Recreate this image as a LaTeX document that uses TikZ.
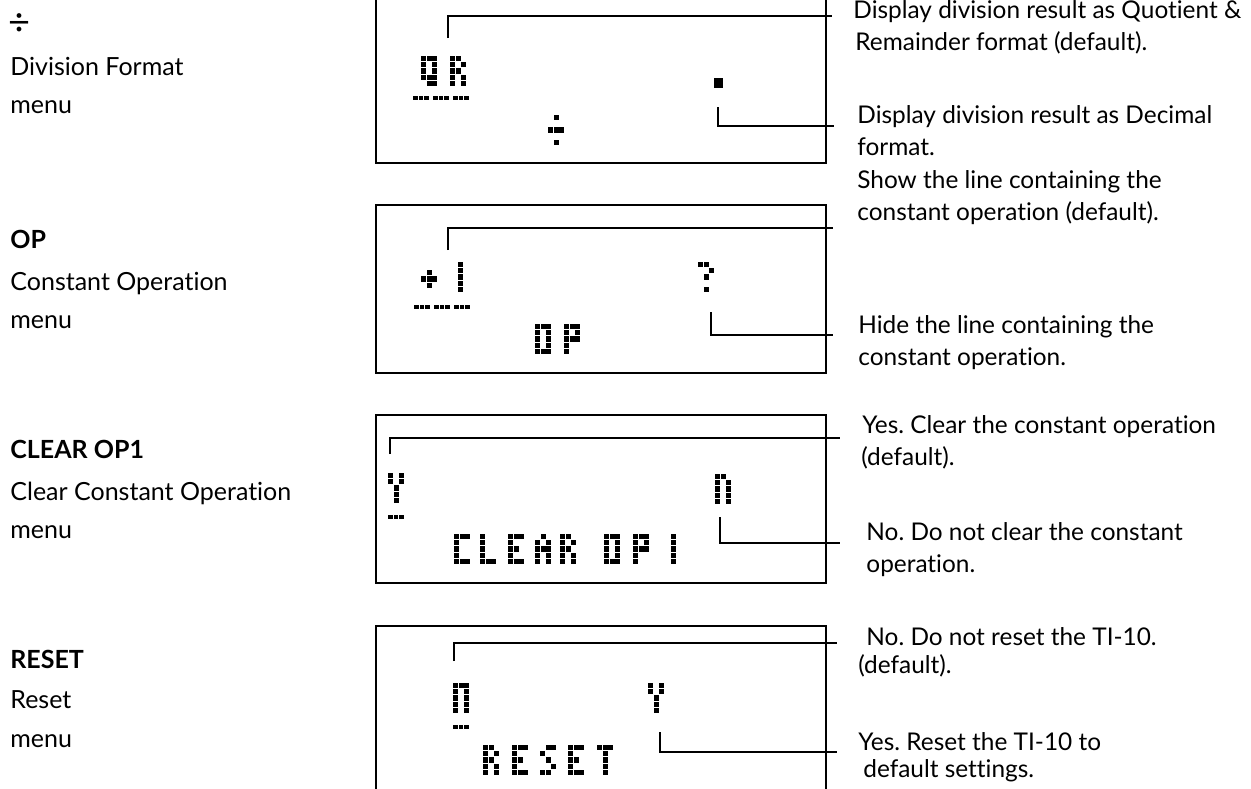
\documentclass[tikz,border=0pt]{standalone}
\usepackage{fontspec}
\setmainfont{Lato}[Ligatures=NoCommon]
\usetikzlibrary{positioning}
\frenchspacing

\tikzset{
  menulabel/.style={anchor=base west, inner sep=0pt, font=\fontsize{12.5}{15}\selectfont},
  menutitle/.style={anchor=base west, inner sep=0pt, font=\fontsize{12.5}{15}\selectfont\bfseries},
  note/.style={anchor=base west, inner sep=0pt, font=\fontsize{12.2}{14}\selectfont},
  lcdframe/.style={line width=0.8pt},
  pointer/.style={line width=0.65pt}
}

% dot-matrix glyphs, col/row of the lit dots
\def\glyphQ{0/0,1/0,2/0,0/1,2/1,0/2,2/2,0/3,1/3,2/3,1/4,2/4}
\def\glyphR{0/0,1/0,0/1,2/1,0/2,1/2,0/3,2/3,0/4,2/4}
\def\glyphDiv{1/0,0/2,1/2,2/2,1/4}
\def\glyphPlus{1/1,0/2,1/2,2/2,1/3}
\def\glyphOne{0/0,0/1,0/2,0/3,0/4}
\def\glyphQm{0/0,1/0,2/1,1/2,1/4}
\def\glyphO{0/0,1/0,2/0,0/1,2/1,0/2,2/2,0/3,2/3,0/4,1/4,2/4}
\def\glyphP{0/0,1/0,2/0,0/1,2/1,0/2,1/2,2/2,0/3,0/4}
\def\glyphY{0/0,2/0,0/1,2/1,1/2,1/3,1/4}
\def\glyphn{0/0,1/0,0/1,2/1,0/2,2/2,0/3,2/3,0/4,2/4}
\def\glyphN{0/0,1/0,2/0,0/1,2/1,0/2,2/2,0/3,2/3,0/4,2/4}
\def\glyphC{0/0,1/0,2/0,0/1,0/2,0/3,0/4,1/4,2/4}
\def\glyphL{0/0,0/1,0/2,0/3,0/4,1/4,2/4}
\def\glyphE{0/0,1/0,2/0,0/1,0/2,1/2,0/3,0/4,1/4,2/4}
\def\glyphA{1/0,0/1,2/1,0/2,1/2,2/2,0/3,2/3,0/4,2/4}
\def\glyphS{1/0,2/0,0/1,1/2,2/3,0/4,1/4}
\def\glyphT{0/0,1/0,2/0,1/1,1/2,1/3,1/4}

\newcommand{\lcdchar}[3]{\foreach \c/\r in #3 {\fill ({#1+\c*5.6},{#2+\r*6.2}) rectangle ++(5,5.2);}}
\newcommand{\lcdbar}[2]{\foreach \c in {0,1,2} {\fill ({#1+\c*5.6},#2) rectangle ++(4.8,4.4);}}

\begin{document}
\begin{tikzpicture}[x=0.5pt, y=-0.5pt]
    \useasboundingbox (0,0) rectangle (1251,788);
    \clip (0,0) rectangle (1251,788);

    % Division Format menu
    \node[menulabel, font=\fontsize{19}{20}\selectfont] (divtitle) at (8,35) {÷};
    \node[menulabel] (divname) at (10,75) {Division Format};
    \node[menulabel] (divmenu) at (10,113) {menu};
    \draw[lcdframe] (376,-5) rectangle (826,163);
    \lcdchar{421}{56}{\glyphQ}
    \lcdchar{450}{56}{\glyphR}
    \lcdbar{413}{96} \lcdbar{433}{96} \lcdbar{453}{96}
    \lcdchar{548}{115}{\glyphDiv}
    \fill (714,78) rectangle (723,88);
    \coordinate (qrtip) at (448,38);
    \coordinate (qrend) at (832,16);
    \coordinate (dectip) at (718,107);
    \coordinate (decend) at (834,126);
    \draw[pointer] (qrtip) |- (qrend);
    \draw[pointer] (dectip) |- (decend);
    \node[note] (qrnote) at (853,18) {Display division result as Quotient \&};
    \node[note] (qrnoteb) at (855,50) {Remainder format (default).};
    \node[note] (decnote) at (857,123) {Display division result as Decimal};
    \node[note] (decnoteb) at (857,155) {format.};

    % Constant Operation menu
    \node[menutitle] (optitle) at (10,248) {OP};
    \node[menulabel] (opname) at (10,290) {Constant Operation};
    \node[menulabel] (opmenu) at (10,328) {menu};
    \draw[lcdframe] (376,205) rectangle (826,373);
    \lcdchar{421}{264}{\glyphPlus}
    \lcdchar{458}{262}{\glyphOne}
    \lcdbar{414}{305} \lcdbar{434}{305} \lcdbar{454}{305}
    \lcdchar{698}{262}{\glyphQm}
    \lcdchar{535}{324}{\glyphO}
    \lcdchar{564}{324}{\glyphP}
    \coordinate (showtip) at (448,250);
    \coordinate (showend) at (833,228);
    \coordinate (hidetip) at (711,312);
    \coordinate (hideend) at (833,335);
    \draw[pointer] (showtip) |- (showend);
    \draw[pointer] (hidetip) |- (hideend);
    \node[note] (shownote) at (857,188) {Show the line containing the};
    \node[note] (shownoteb) at (857,220) {constant operation (default).};
    \node[note] (hidenote) at (858,333) {Hide the line containing the};
    \node[note] (hidenoteb) at (858,365) {constant operation.};

    % Clear Constant Operation menu
    \node[menutitle] (cltitle) at (10,458) {CLEAR OP1};
    \node[menulabel] (clname) at (10,500) {Clear Constant Operation};
    \node[menulabel] (clmenu) at (10,538) {menu};
    \draw[lcdframe] (376,415) rectangle (826,583);
    \lcdchar{388}{473}{\glyphY}
    \lcdbar{388}{515}
    \lcdchar{715}{474}{\glyphn}
    \lcdchar{454}{534}{\glyphC}
    \lcdchar{480}{534}{\glyphL}
    \lcdchar{508}{534}{\glyphE}
    \lcdchar{535}{534}{\glyphA}
    \lcdchar{560}{534}{\glyphR}
    \lcdchar{604}{534}{\glyphO}
    \lcdchar{633}{534}{\glyphP}
    \lcdchar{671}{534}{\glyphOne}
    \coordinate (yestip) at (390,454);
    \coordinate (yesend) at (840,438);
    \coordinate (notip) at (720,517);
    \coordinate (noend) at (840,543);
    \draw[pointer] (yestip) |- (yesend);
    \draw[pointer] (notip) |- (noend);
    \node[note] (yesnote) at (862,433) {Yes. Clear the constant operation};
    \node[note] (yesnoteb) at (861,465) {(default).};
    \node[note] (nonote) at (866,540) {No. Do not clear the constant};
    \node[note] (nonoteb) at (866,572) {operation.};

    % Reset menu
    \node[menutitle] (rstitle) at (10,668) {RESET};
    \node[menulabel] (rsname) at (10,708) {Reset};
    \node[menulabel] (rsmenu) at (10,747) {menu};
    \draw[lcdframe] (376,626) rectangle (826,820);
    \lcdchar{453}{683}{\glyphN}
    \lcdbar{453}{725}
    \lcdchar{648}{683}{\glyphY}
    \lcdchar{483}{745}{\glyphR}
    \lcdchar{512}{745}{\glyphE}
    \lcdchar{540}{745}{\glyphS}
    \lcdchar{568}{745}{\glyphE}
    \lcdchar{597}{745}{\glyphT}
    \coordinate (keeptip) at (454,661);
    \coordinate (keepend) at (837,643);
    \coordinate (resettip) at (660,732);
    \coordinate (resetend) at (837,752);
    \draw[pointer] (keeptip) |- (keepend);
    \draw[pointer] (resettip) |- (resetend);
    \node[note] (keepnote) at (866,645) {No. Do not reset the TI-10.};
    \node[note] (keepnoteb) at (858,673) {(default).};
    \node[note] (resetnote) at (858,750) {Yes. Reset the TI-10 to};
    \node[note] (resetnoteb) at (863,777) {default settings.};
\end{tikzpicture}
\end{document}
